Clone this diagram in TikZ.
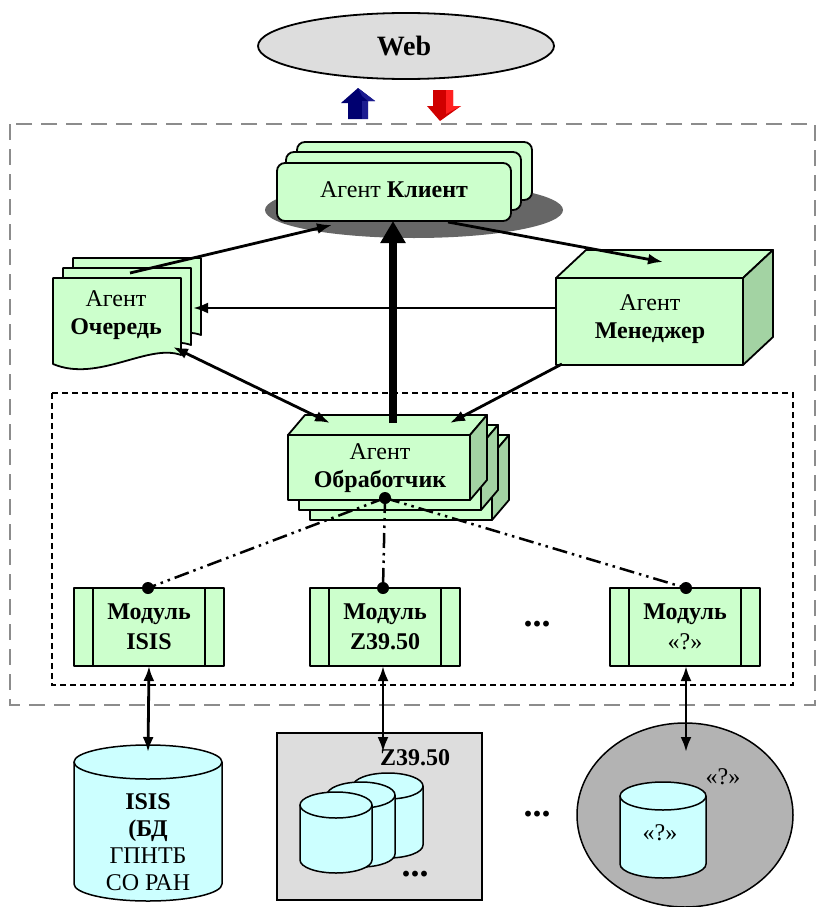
\documentclass[tikz,border=0pt]{standalone}
\usepackage{fontspec}
\setmainfont{Liberation Serif}
\usetikzlibrary{arrows.meta}

\definecolor{agentgreen}{HTML}{CCFFCC}
\definecolor{agentside}{HTML}{A3D3A3}
\definecolor{dbcyan}{HTML}{CCFFFF}
\definecolor{lightgray}{HTML}{DDDDDD}
\definecolor{midgray}{HTML}{B3B3B3}
\definecolor{shadowgray}{HTML}{666666}
\definecolor{framegray}{HTML}{8C8C8C}
\definecolor{upnavy}{HTML}{000070}
\definecolor{upnavyside}{HTML}{1C1C90}
\definecolor{downred}{HTML}{D00000}
\definecolor{downredside}{HTML}{FF2020}

\tikzset{
  face/.style={fill=agentgreen, draw=black, line width=1.8pt, line join=round},
  sideface/.style={fill=agentside, draw=black, line width=1.8pt, line join=round},
  dbstyle/.style={fill=dbcyan, draw=black, line width=1.5pt},
  conn/.style={line width=2.8pt, -{Latex[length=15pt,width=11pt]}},
  biconn/.style={line width=2.8pt, {Latex[length=15pt,width=11pt]}-{Latex[length=15pt,width=11pt]}},
  dashdotdot/.style={line width=2.5pt, dash pattern=on 15pt off 5pt on 2.5pt off 5pt on 2.5pt off 5pt},
  knob/.style={circle, fill=black, inner sep=0pt, minimum size=12pt},
  lbl/.style={align=center, inner sep=0pt},
  bolddots/.style={lbl, font=\fontsize{36}{38}\selectfont\bfseries},
}

% cylinder: centre x, top ellipse y, bottom ellipse y, x radius, y radius
\newcommand\dbcyl[5]{%
  \filldraw[dbstyle] (#1-#4,#2) -- (#1-#4,#3)
    arc[start angle=180,end angle=360,x radius=#4pt,y radius=#5pt] -- (#1+#4,#2);
  \draw[dbstyle] (#1,#2) ellipse[x radius=#4pt,y radius=#5pt];
}
% box in perspective: x1,y1 (top left), x2,y2 (bottom right), depth dx, depth dy
\newcommand\prismbox[6]{%
  \filldraw[face] (#1,#2) rectangle (#3,#4);
  \filldraw[face] (#1,#2) -- (#1+#5,#2-#6) -- (#3+#5,#2-#6) -- (#3,#2) -- cycle;
  \filldraw[sideface] (#3,#2) -- (#3+#5,#2-#6) -- (#3+#5,#4-#6) -- (#3,#4) -- cycle;
}
% page with a wavy lower edge, top-left corner at (#1,#2)
\newcommand\docpage[2]{%
  \filldraw[face] (#1,#2) -- (#1+128,#2) -- (#1+128,#2+77)
    .. controls (#1+95,#2+65) and (#1+45,#2+105) .. (#1,#2+86) -- cycle;
}

\begin{document}
\begin{tikzpicture}[x=1pt,y=-1pt,font=\fontsize{24}{28}\selectfont]
\useasboundingbox (0,0) rectangle (820,907);

% ---------- Web ----------
\filldraw[fill=lightgray, draw=black, line width=1.8pt] (406,46) ellipse[x radius=148pt, y radius=33pt];
\node[lbl, font=\fontsize{28}{32}\selectfont\bfseries] (web) at (404,46) {Web};

% up and down block arrows
\fill[upnavy] (348,119) -- (348,103) -- (341,103) -- (358,88) -- (375,101) -- (368,101) -- (368,119) -- cycle;
\fill[upnavyside] (362,119) -- (362,101) -- (368,101) -- (368,119) -- cycle;
\fill[upnavyside] (358,88) -- (375,101) -- (368,101) -- (362,96) -- cycle;
\fill[downred] (433,90) -- (453,90) -- (453,106) -- (461,106) -- (440,121) -- (427,106) -- (433,106) -- cycle;
\fill[downredside] (446,90) -- (453,90) -- (453,106) -- (461,106) -- (446,114) -- cycle;

% ---------- outer and inner frames ----------
\draw[framegray, line width=2.8pt, dash pattern=on 16pt off 9pt] (10,124) rectangle (815,705);
\draw[black, line width=1.6pt, dash pattern=on 6pt off 4pt] (52,393) rectangle (793,685);

% ---------- Agent Client ----------
\fill[shadowgray] (414,210) ellipse[x radius=149pt, y radius=28pt];
\filldraw[face, rounded corners=8pt] (297,142) rectangle (532,200);
\filldraw[face, rounded corners=8pt] (286,152) rectangle (521,210);
\filldraw[face, rounded corners=8pt] (277,163) rectangle (511,221);
\node[lbl] (client) at (394,190) {Агент \textbf{Клиент}};

% ---------- Agent Queue ----------
\docpage{73}{258}
\docpage{63}{268}
\docpage{53}{278}
\node[lbl] (queue) at (116,315) {Агент\\\textbf{Очередь}};

% ---------- Agent Manager ----------
\prismbox{556}{278}{743}{365}{30}{28}
\node[lbl] (manager) at (650,319) {Агент\\\textbf{Менеджер}};

% ---------- Agent Handler ----------
\prismbox{310}{455}{492}{520}{17}{20}
\prismbox{299}{445}{481}{510}{17}{20}
\prismbox{288}{435}{470}{500}{17}{20}
\node[lbl] (handler) at (380,468) {Агент\\\textbf{Обработчик}};

% ---------- modules ----------
\foreach \mx/\mname/\mtext in {74/isis/ISIS, 310/zmod/Z39.50, 610/qmod/{\mdseries «?»}}{
  \filldraw[face] (\mx,588) rectangle (\mx+150,666);
  \draw[black, line width=1.8pt] (\mx+19,588) -- (\mx+19,666) (\mx+131,588) -- (\mx+131,666);
  \node[lbl, font=\fontsize{24}{30}\selectfont\bfseries] (mod-\mname) at (\mx+75,627) {Модуль\\\mtext};
}
\node[bolddots] (dotsmid) at (537,624) {...};

% ---------- connectors among the agents ----------
\coordinate (qOut) at (130,273);
\coordinate (cInL) at (332,225);
\coordinate (cOutR) at (448,222);
\coordinate (mInTop) at (663,262);
\coordinate (mLeft) at (556,308);
\coordinate (qInR) at (193,308);
\coordinate (qLow) at (173,347);
\coordinate (hInL) at (330,423);
\coordinate (mLow) at (562,364);
\coordinate (hInR) at (450,423);
\coordinate (hTop) at (393,423);
\coordinate (cBot) at (393,221);

\draw[conn] (qOut) -- (cInL);
\draw[conn] (cOutR) -- (mInTop);
\draw[conn] (mLeft) -- (qInR);
\draw[biconn] (qLow) -- (hInL);
\draw[conn] (mLow) -- (hInR);
\draw[line width=8pt, -{Triangle[length=22pt,width=24pt]}] (hTop) -- (cBot);

% ---------- handler to modules ----------
\node[knob] (hk) at (385,498) {};
\node[knob] (k1) at (148,588) {};
\node[knob] (k2) at (383,588) {};
\node[knob] (k3) at (686,588) {};
\draw[dashdotdot] (hk.center) -- (k1.center);
\draw[dashdotdot] (hk.center) -- (k2.center);
\draw[dashdotdot] (hk.center) -- (k3.center);

% ---------- data sources ----------
% ISIS database
\dbcyl{148}{762}{884}{74}{17}
\node[lbl, font=\fontsize{24}{27}\selectfont] (isisdb) at (148,842) {\textbf{ISIS}\\\textbf{(БД}\\ГПНТБ\\СО РАН};

% Z39.50 servers
\filldraw[fill=lightgray, draw=black, line width=1.6pt] (277,733) rectangle (482,900);
\node[lbl, font=\fontsize{24}{28}\selectfont\bfseries] (zlabel) at (415,758) {Z39.50};
\dbcyl{388}{786}{845}{35}{13}
\dbcyl{361}{795}{854}{34}{13}
\dbcyl{336}{805}{860}{36}{13}
\node[bolddots] (zdots) at (415,874) {...};

\node[bolddots] (dotslow) at (537,814) {...};

% unknown source
\filldraw[fill=midgray, draw=black, line width=1.5pt] (685,815) ellipse[x radius=108pt, y radius=92pt];
\node[lbl] (qlabel) at (723,777) {«?»};
\dbcyl{663}{796}{864}{43}{14}
\node[lbl] (qdb) at (660,833) {«?»};

% module to source links
\coordinate (s1) at (148,752);
\coordinate (s2) at (383,752);
\coordinate (s3) at (686,752);
\draw[biconn] (mod-isis |- 0,666) -- (s1);
\draw[biconn] (383,666) -- (s2);
\draw[biconn] (686,666) -- (s3);
\end{tikzpicture}
\end{document}
